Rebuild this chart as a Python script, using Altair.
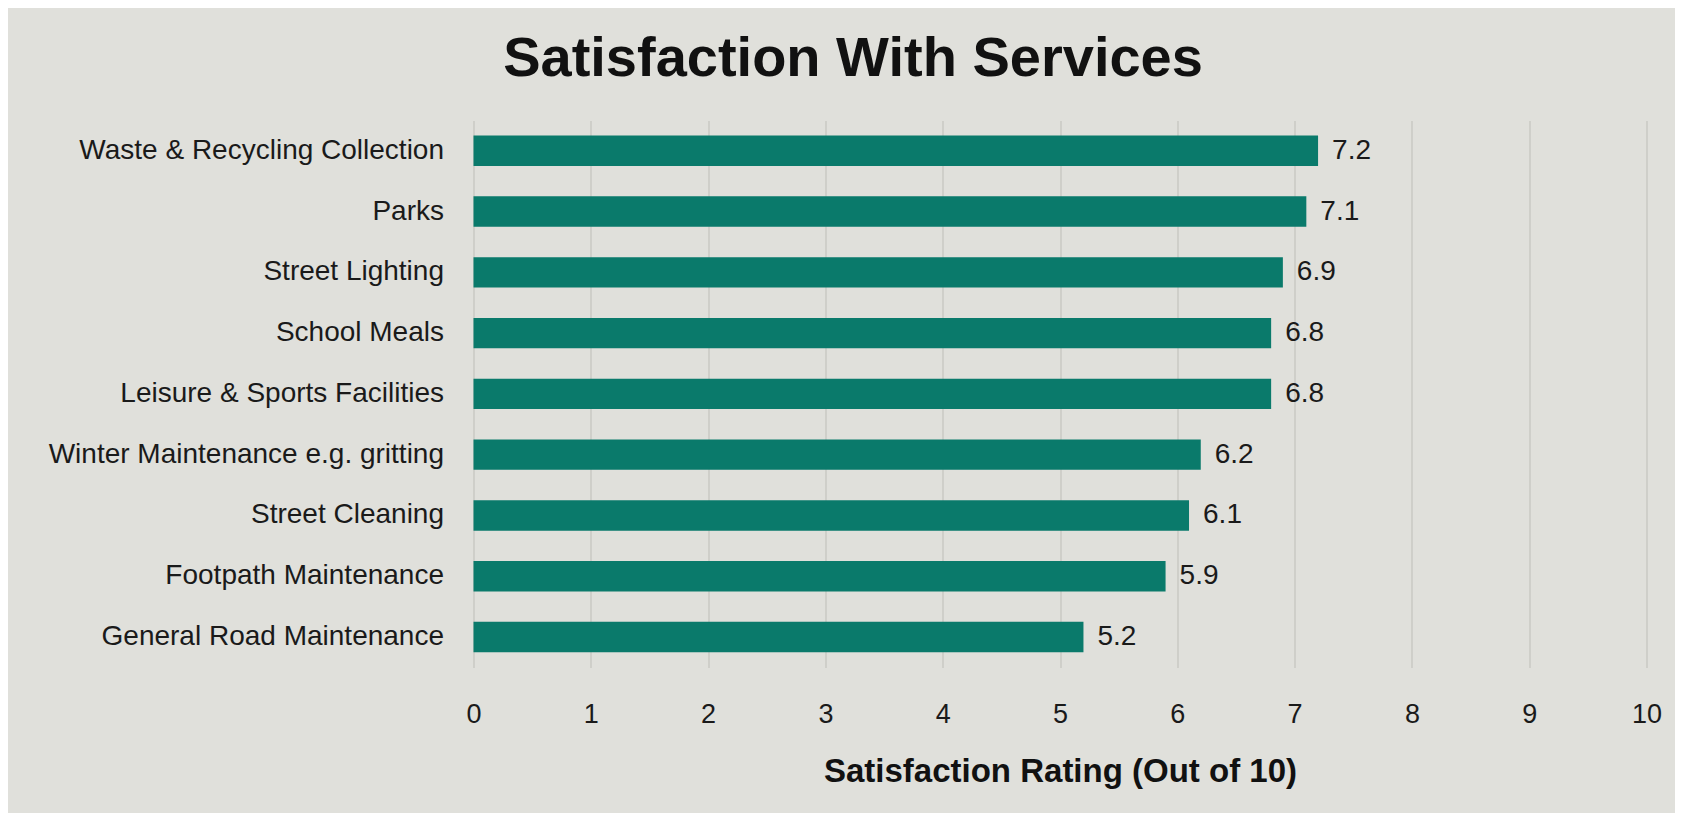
import altair as alt
import pandas as pd

categories = [
    "Waste & Recycling Collection",
    "Parks",
    "Street Lighting",
    "School Meals",
    "Leisure & Sports Facilities",
    "Winter Maintenance e.g. gritting",
    "Street Cleaning",
    "Footpath Maintenance",
    "General Road Maintenance",
]
ratings = [7.2, 7.1, 6.9, 6.8, 6.8, 6.2, 6.1, 5.9, 5.2]
tick_values = [0, 1, 2, 3, 4, 5, 6, 7, 8, 9, 10]

df = pd.DataFrame({"service": categories, "rating": ratings})

FONT = "Liberation Sans"
BAR = "#0a7a6b"
BG = "#e0e0db"

y_enc = alt.Y(
    "service:N",
    sort=categories,
    scale=alt.Scale(paddingInner=0.5, paddingOuter=0.25),
    axis=alt.Axis(
        title=None,
        ticks=False,
        tickSize=0,
        domain=False,
        grid=False,
        labelPadding=30,
        labelFontSize=28,
        labelFont=FONT,
        labelColor="#1a1a1a",
        labelLimit=600,
    ),
)

x_enc = alt.X(
    "rating:Q",
    scale=alt.Scale(domain=[0, 10], nice=False),
    axis=alt.Axis(
        values=tick_values,
        title="Satisfaction Rating (Out of 10)",
        titleFont=FONT,
        titleFontSize=33,
        titleFontWeight="bold",
        titleColor="#111111",
        titlePadding=28,
        ticks=False,
        tickSize=0,
        domain=False,
        grid=True,
        gridColor="#c6c6c1",
        gridWidth=1.3,
        labelPadding=34,
        labelFontSize=27,
        labelFont=FONT,
        labelColor="#1a1a1a",
        labelFlush=False,
        format="d",
    ),
)

bars = alt.Chart(df).mark_bar(color=BAR).encode(x=x_enc, y=y_enc)

labels = alt.Chart(df).mark_text(
    align="left", baseline="middle", dx=14, fontSize=28, font=FONT, color="#1a1a1a"
).encode(
    x=alt.X("rating:Q"),
    y=alt.Y("service:N", sort=categories),
    text=alt.Text("rating:Q", format=".1f"),
)

chart = (
    alt.layer(bars, labels)
    .properties(
        width=1173,
        height=547,
        background=BG,
        autosize=alt.AutoSizeParams(type="none"),
        padding={"left": 465.5, "top": 112.4, "right": 28.5, "bottom": 145.6},
        title=alt.TitleParams(
            "Satisfaction With Services",
            font=FONT,
            fontSize=56,
            fontWeight="bold",
            color="#111111",
            anchor="middle",
            frame="group",
            dx=-207,
            offset=32,
        ),
    )
    .configure_view(stroke=None)
)

chart.save("out.html", embed_options={"renderer": "svg", "actions": False})
